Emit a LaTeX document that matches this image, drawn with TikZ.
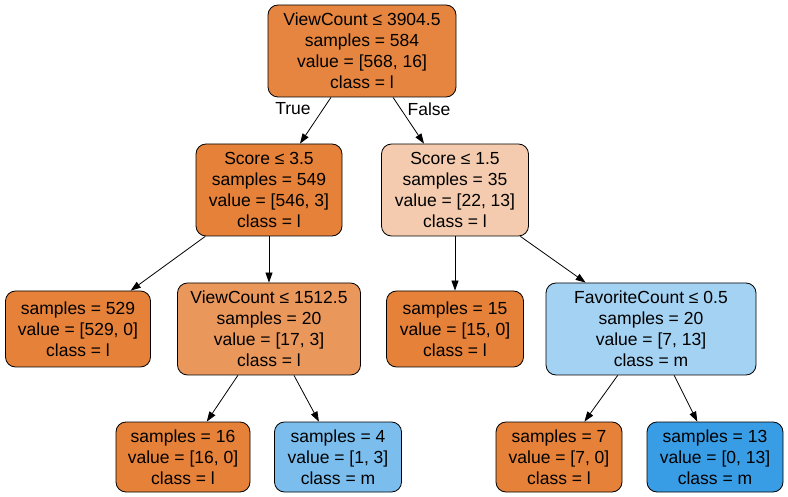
\documentclass[tikz,border=0pt]{standalone}
\usepackage{fontspec}
\setmainfont{Liberation Sans}
\usepackage{xcolor}
\usepackage{tikz}
\usetikzlibrary{arrows.meta}

\definecolor{cRoot}{RGB}{230,133,63}
\definecolor{cPure}{RGB}{229,129,57}
\definecolor{cSoft}{RGB}{244,203,174}
\definecolor{cMid}{RGB}{234,151,92}
\definecolor{cLightBlue}{RGB}{164,210,243}
\definecolor{cMidBlue}{RGB}{123,190,238}
\definecolor{cBlue}{RGB}{57,157,229}

\begin{document}
\begin{tikzpicture}[
    x=1pt, y=-1pt,
    every node/.style={font=\fontsize{17.5}{21}\selectfont},
    split/.style={draw, line width=0.8pt, rounded corners=10pt, align=center,
        inner xsep=11pt, inner ysep=0pt, minimum height=92pt},
    leaf/.style={split, minimum height=76pt},
    edge/.style={-{Triangle[length=10pt, width=7pt]}, line width=0.8pt}
]
\useasboundingbox (0,0) rectangle (788,497);

% Splits
\node[split, fill=cRoot, minimum width=188pt] (root) at (362,51) {ViewCount ≤ 3904.5\\samples = 584\\value = [568, 16]\\class = l};
\node[split, fill=cPure, minimum width=146pt] (scoreL) at (269,190) {Score ≤ 3.5\\samples = 549\\value = [546, 3]\\class = l};
\node[split, fill=cSoft, minimum width=147pt] (scoreR) at (455,190) {Score ≤ 1.5\\samples = 35\\value = [22, 13]\\class = l};
\node[split, fill=cMid, minimum width=183pt] (viewL) at (269,329) {ViewCount ≤ 1512.5\\samples = 20\\value = [17, 3]\\class = l};
\node[split, fill=cLightBlue, minimum width=210pt] (favR) at (651,329) {FavoriteCount ≤ 0.5\\samples = 20\\value = [7, 13]\\class = m};

% Leaves
\node[leaf, fill=cPure, minimum width=145pt] (leafA) at (78,329) {samples = 529\\value = [529, 0]\\class = l};
\node[leaf, fill=cPure, minimum width=137pt] (leafB) at (455,329) {samples = 15\\value = [15, 0]\\class = l};
\node[leaf, fill=cPure, minimum height=70pt, minimum width=134pt] (leafC) at (183,457) {samples = 16\\value = [16, 0]\\class = l};
\node[leaf, fill=cMidBlue, minimum height=70pt, minimum width=127pt] (leafD) at (338,457) {samples = 4\\value = [1, 3]\\class = m};
\node[leaf, fill=cPure, minimum height=70pt, minimum width=126pt] (leafE) at (559,457) {samples = 7\\value = [7, 0]\\class = l};
\node[leaf, fill=cBlue, minimum height=70pt, minimum width=136pt] (leafF) at (715,457) {samples = 13\\value = [0, 13]\\class = m};

% Edges
\draw[edge] (root) -- (scoreL);
\draw[edge] (root) -- (scoreR);
\draw[edge] (scoreL) -- (leafA);
\draw[edge] (scoreL) -- (viewL);
\draw[edge] (scoreR) -- (leafB);
\draw[edge] (scoreR) -- (favR);
\draw[edge] (viewL) -- (leafC);
\draw[edge] (viewL) -- (leafD);
\draw[edge] (favR) -- (leafE);
\draw[edge] (favR) -- (leafF);

\node (lblTrue) at (293,109) {True};
\node (lblFalse) at (429,109) {False};

\end{tikzpicture}
\end{document}
